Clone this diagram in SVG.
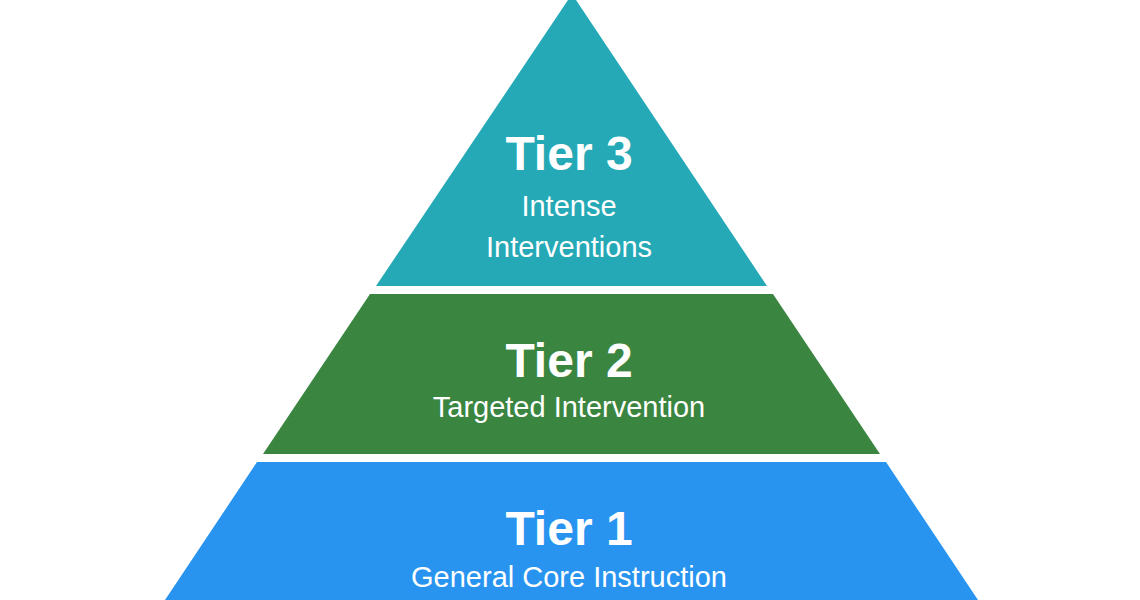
<svg xmlns="http://www.w3.org/2000/svg" width="1140" height="600" viewBox="0 0 1140 600">
<style>
text{font-family:"Liberation Sans",Arial,sans-serif;fill:#fff;text-anchor:middle}
.t{font-size:48px;font-weight:bold}
.s{font-size:29px}
</style>
<rect width="1140" height="600" fill="#fff"/>
<g id="tier3"><polygon points="568,0 576,0 767,286 376,286" fill="#25A9B6"/>
<text class="t" x="569" y="170">Tier 3</text><text class="s" x="569" y="216">Intense</text><text class="s" x="569" y="257">Interventions</text></g>
<g id="tier2"><polygon points="370,294 773,294 880,454 263,454" fill="#3A8540"/>
<text class="t" x="569" y="377">Tier 2</text><text class="s" x="569" y="417">Targeted Intervention</text></g>
<g id="tier1"><polygon points="257,462 886,462 978,600 165,600" fill="#2894F0"/>
<text class="t" x="569" y="545">Tier 1</text><text class="s" x="569" y="587">General Core Instruction</text></g>
<g id="connectors"/>
</svg>
